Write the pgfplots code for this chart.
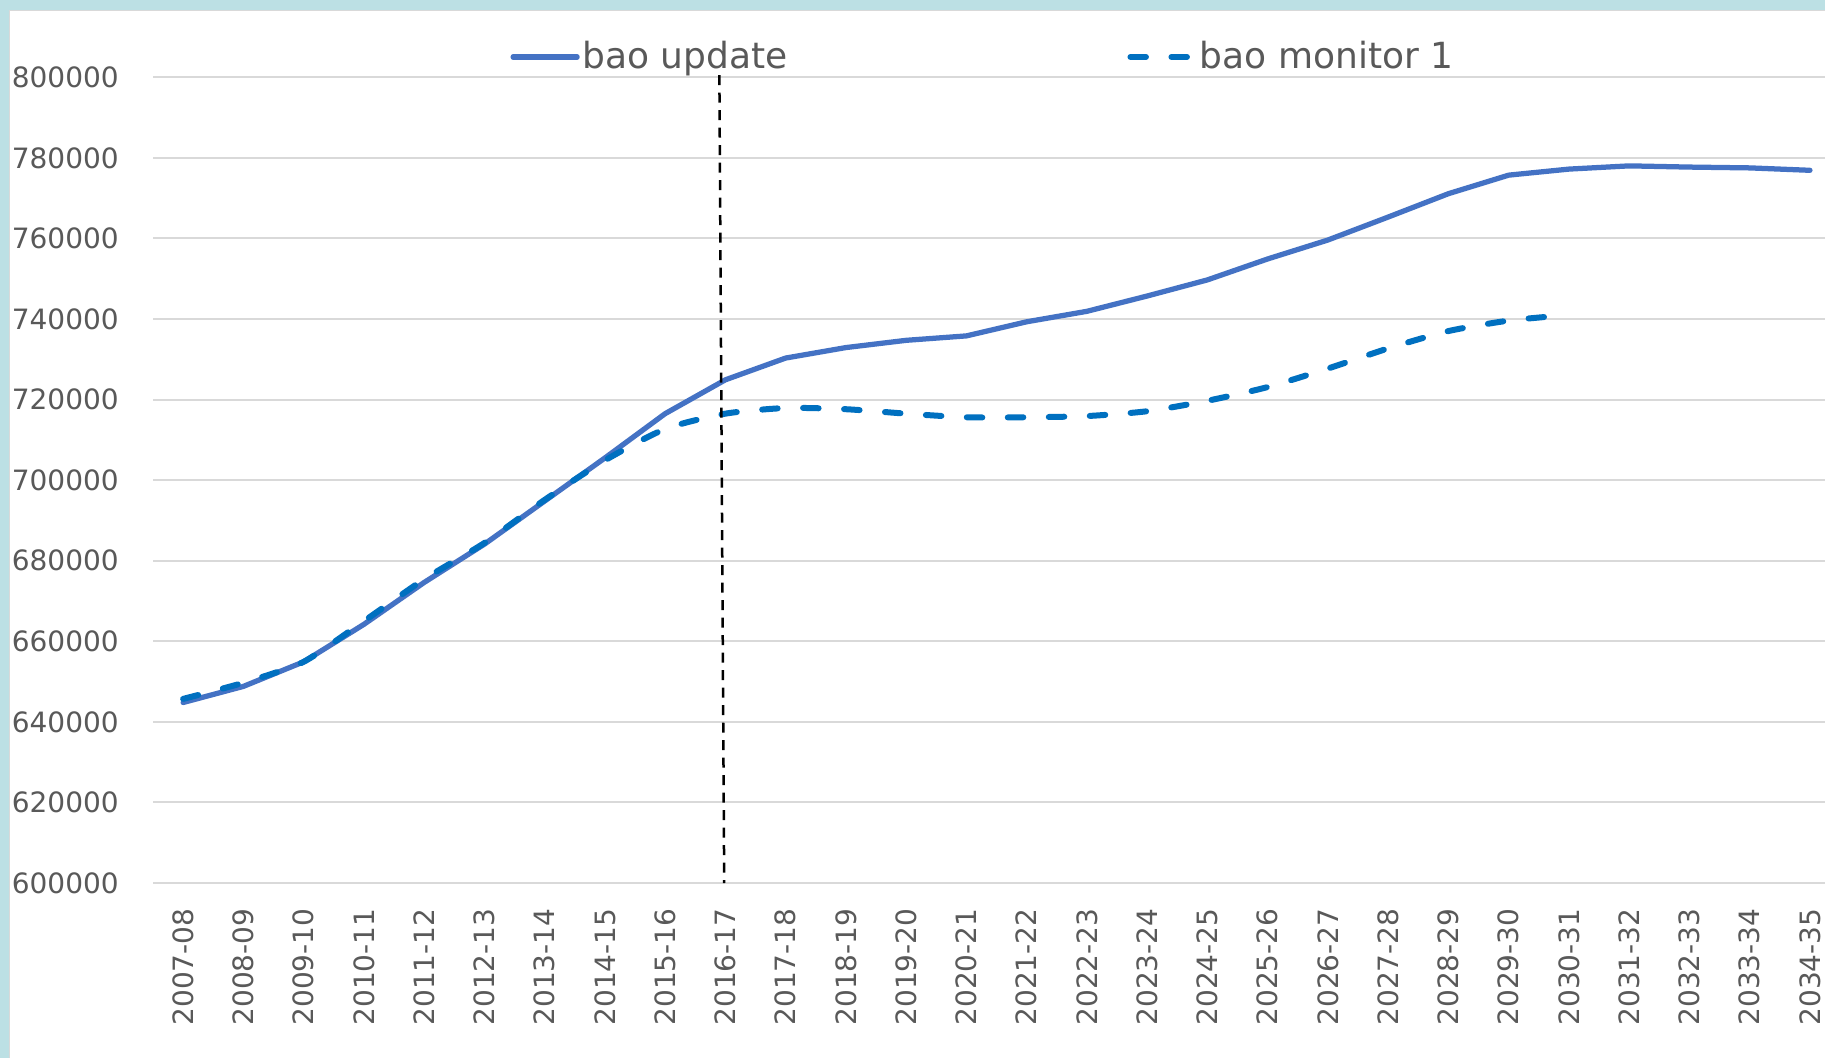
\documentclass[border=0pt]{standalone}
\usepackage{fontspec}
\setmainfont{DejaVu Sans}
\usepackage{pgfplots}
\pgfplotsset{compat=1.18}
\definecolor{bordercol}{RGB}{188,224,228}
\definecolor{solidblue}{RGB}{68,114,196}
\definecolor{dashblue}{RGB}{0,112,192}
\definecolor{txtgray}{RGB}{89,89,89}
\definecolor{gridgray}{RGB}{217,217,217}
\begin{document}
\begin{tikzpicture}
\useasboundingbox (0,0) rectangle (730pt,423.2pt);
\fill[bordercol] (0,0) rectangle (730pt,423.2pt);
\fill[white] (3.4pt,0) rectangle (730pt,419.2pt);
\draw[gridgray, line width=0.6pt] (3.7pt,0) -- (3.7pt,418.9pt) -- (730pt,418.9pt);
\begin{axis}[
  at={(61.2pt,70pt)}, anchor=south west,
  scale only axis, width=668.8pt, height=322.3pt,
  xmin=-0.5, xmax=27.25, ymin=600000, ymax=800000,
  axis lines=left, axis line style={draw=none,-},
  major tick length=0pt,
  ymajorgrids, grid style={gridgray, line width=0.8pt},
  ytick={600000,620000,...,800000},
  scaled y ticks=false,
  /pgf/number format/fixed,
  /pgf/number format/1000 sep={},
  /pgf/number format/assume math mode=true,
  y tick label style={inner sep=0pt, font=\fontsize{11.2}{13}\selectfont, text=txtgray},
  yticklabel shift=13.5pt,
  xtick={0,...,27},
  xticklabels={2007-08,2008-09,2009-10,2010-11,2011-12,2012-13,2013-14,2014-15,2015-16,2016-17,2017-18,2018-19,2019-20,2020-21,2021-22,2022-23,2023-24,2024-25,2025-26,2026-27,2027-28,2028-29,2029-30,2030-31,2031-32,2032-33,2033-34,2034-35},
  x tick label style={rotate=90, anchor=east, inner sep=0pt, font=\fontsize{11.2}{13}\selectfont, text=txtgray},
  xticklabel shift=10pt,
  clip=false,
  legend columns=2,
  legend style={draw=none, fill=none, inner sep=0pt, at={(0.2135,1)}, anchor=west, yshift=8.1pt,
    font=\fontsize{14.4}{16}\selectfont, text=txtgray, nodes={inner sep=1pt},
    /tikz/every even column/.append style={column sep=135pt}},
  legend image code/.code={\draw[#1] (0pt,0pt) -- (25.6pt,0pt);},
]
\addplot[solidblue, line width=2.1pt, line join=round, line cap=round] coordinates {
(0,644800) (1,648800) (2,654900) (3,664200) (4,674600) (5,684100) (6,694800)
(7,705500) (8,716500) (9,724900) (10,730300) (11,732900) (12,734700) (13,735800)
(14,739300) (15,741900) (16,745700) (17,749700) (18,754900) (19,759600) (20,765300)
(21,771100) (22,775700) (23,777200) (24,778000) (25,777700) (26,777500) (27,776900)};
\addlegendentry{bao update}
\addplot[dashblue, line width=2.4pt, line cap=round, dash pattern=on 6.2pt off 10.2pt, smooth, tension=0.4] coordinates {
(0,645700) (1,649700) (2,654900) (3,665000) (4,675400) (5,684400) (6,695100)
(7,704900) (8,712700) (9,716500) (10,717900) (11,717600) (12,716500) (13,715600)
(14,715600) (15,715900) (16,717100) (17,719700) (18,723100) (19,727700) (20,732700)
(21,737000) (22,739600) (23,741000)};
\addlegendentry{bao monitor 1}
\addplot[black, line width=1pt, dash pattern=on 4pt off 3pt, forget plot] coordinates {(8.9,800500) (8.98,600000)};
\end{axis}
\end{tikzpicture}
\end{document}
